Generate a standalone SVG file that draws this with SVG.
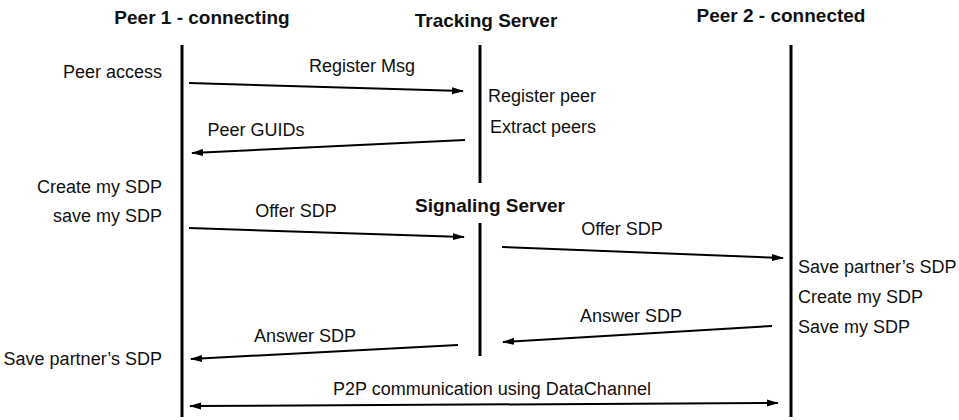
<svg xmlns="http://www.w3.org/2000/svg" width="959" height="420" viewBox="0 0 959 420">
<style>
text{font-family:"Liberation Sans",Arial,sans-serif;fill:#111;font-size:18px}
.title{font-weight:bold;font-size:19px;text-anchor:middle}
.life{stroke:#000;stroke-width:3;fill:none}
.msg{stroke:#000;stroke-width:2;fill:none;marker-end:url(#ah)}
.lbl{text-anchor:middle}
.r{text-anchor:end}
</style>
<defs>
<marker id="ah" markerUnits="userSpaceOnUse" markerWidth="12" markerHeight="8" refX="11" refY="4" orient="auto-start-reverse" viewBox="0 0 12 8">
<path d="M0,0.5 L12,4 L0,7.5 z" fill="#000"/>
</marker>
</defs>
<rect width="959" height="420" fill="#fff"/>
<g id="peer1">
<text class="title" x="202" y="24">Peer 1 - connecting</text>
<line class="life" x1="182" y1="45" x2="182" y2="417"/>
<text class="r" x="162" y="78">Peer access</text>
<text class="r" x="162" y="193">Create my SDP</text>
<text class="r" x="162" y="222">save my SDP</text>
<text class="r" x="162" y="365">Save partner’s SDP</text>
</g>
<g id="tracking">
<text class="title" x="486" y="27">Tracking Server</text>
<line class="life" x1="480" y1="45" x2="480" y2="183"/>
<text x="488" y="102">Register peer</text>
<text x="490" y="133">Extract peers</text>
</g>
<g id="signaling">
<text class="title" x="490" y="212">Signaling Server</text>
<line class="life" x1="480" y1="223" x2="480" y2="356"/>
</g>
<g id="peer2">
<text class="title" x="781" y="22">Peer 2 - connected</text>
<line class="life" x1="791" y1="45" x2="791" y2="417"/>
<text x="798" y="273">Save partner’s SDP</text>
<text x="798" y="303">Create my SDP</text>
<text x="798" y="333">Save my SDP</text>
</g>
<g id="connectors">
<line class="msg" x1="189" y1="83" x2="463" y2="91"/>
<text class="lbl" x="362" y="72">Register Msg</text>
<line class="msg" x1="465" y1="140" x2="192" y2="153"/>
<text class="lbl" x="256" y="136">Peer GUIDs</text>
<line class="msg" x1="189" y1="228" x2="464" y2="237"/>
<text class="lbl" x="296" y="217">Offer SDP</text>
<line class="msg" x1="502" y1="247" x2="783" y2="258"/>
<text class="lbl" x="622" y="235">Offer SDP</text>
<line class="msg" x1="772" y1="326" x2="503" y2="342"/>
<text class="lbl" x="631" y="322">Answer SDP</text>
<line class="msg" x1="458" y1="345" x2="191" y2="359"/>
<text class="lbl" x="305" y="342">Answer SDP</text>
<line class="msg" x1="190" y1="406" x2="778" y2="403" marker-start="url(#ah)"/>
<text class="lbl" x="492" y="395">P2P communication using DataChannel</text>
</g>
</svg>
